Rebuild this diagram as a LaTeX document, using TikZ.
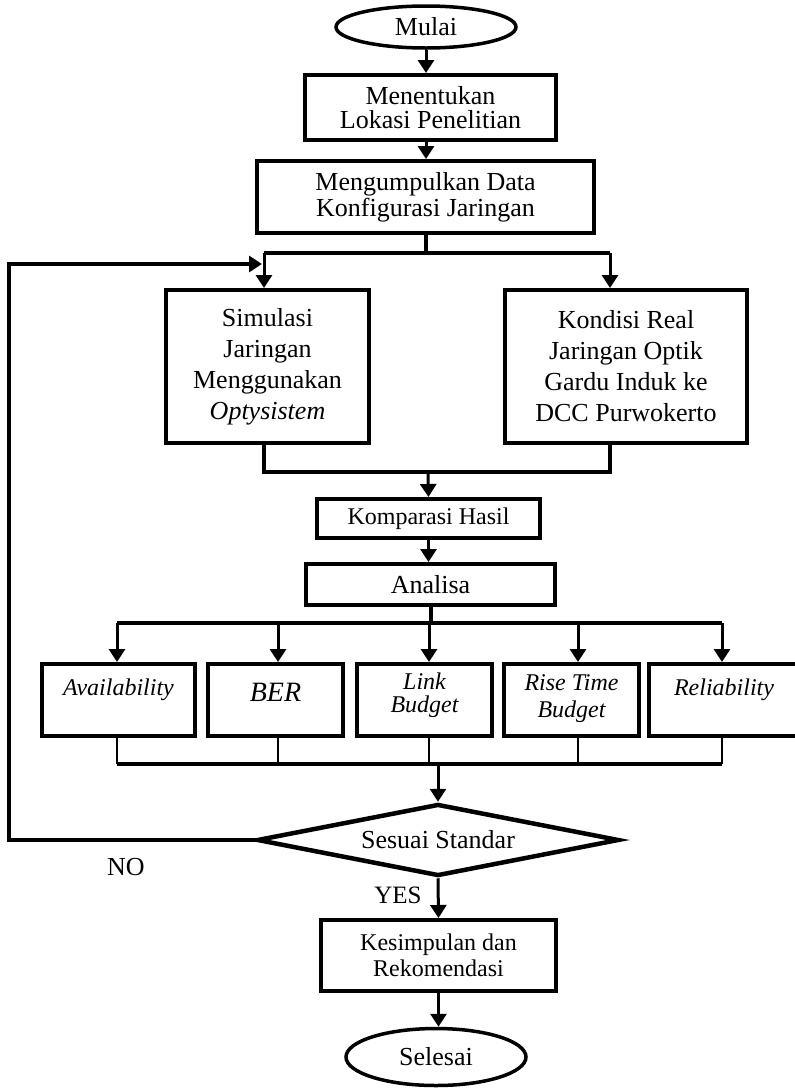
\documentclass[tikz,border=0pt]{standalone}
\usepackage{fontspec}
\setmainfont{Liberation Serif}
\usetikzlibrary{positioning,shapes.geometric,arrows.meta,calc}

\tikzset{
  proc/.style={draw,line width=4pt,align=center,inner sep=0pt,font=\fontsize{26}{25}\selectfont},
  term/.style={draw,ellipse,line width=3.5pt,inner sep=0pt,font=\fontsize{26}{26}\selectfont},
  decide/.style={draw,diamond,aspect=5,line width=4.5pt,inner sep=0pt,font=\fontsize{26}{26}\selectfont},
  param/.style={proc,minimum height=72pt,font=\fontsize{24}{22}\itshape},
  bus/.style={line width=4pt},
  flow/.style={line width=3pt,-{Triangle[length=13pt,width=16pt]}},
  tie/.style={line width=2pt}
}

\begin{document}
\begin{tikzpicture}[x=1pt,y=-1pt]
\useasboundingbox (0,0) rectangle (795,1088);

\node[term,minimum width=180pt,minimum height=42pt] (mulai) at (426,27) {Mulai};
\node[proc,minimum width=251pt,minimum height=65pt,font=\fontsize{26}{24}\selectfont] (lokasi) at (430.5,107.5) {Menentukan\\Lokasi Penelitian};
\node[proc,minimum width=337pt,minimum height=72pt,font=\fontsize{26}{26}\selectfont] (data) at (425.5,197) {Mengumpulkan Data\\Konfigurasi Jaringan};
\node[proc,minimum width=203pt,minimum height=153pt,font=\fontsize{26}{31}\selectfont] (simulasi) at (267.5,366.5) {Simulasi\\Jaringan\\Menggunakan\\\textit{Optysistem}};
\node[proc,minimum width=242pt,minimum height=153pt,font=\fontsize{26}{31}\selectfont] (kondisi) at (626,366.5) {Kondisi Real\\Jaringan Optik\\Gardu Induk ke\\DCC Purwokerto};
\node[proc,minimum width=223pt,minimum height=39pt,font=\fontsize{24}{24}\selectfont] (komparasi) at (428.5,518.5) {Komparasi Hasil};
\node[proc,minimum width=249pt,minimum height=41pt] (analisa) at (430.5,584.5) {Analisa};

\node[param,minimum width=153pt,text height=31pt,text depth=41pt] (avail) at (118.5,700) {Availability};
\node[param,minimum width=135pt,text height=37pt,text depth=35pt,font=\fontsize{28}{28}\itshape] (ber) at (275.5,700) {BER};
\node[param,minimum width=135pt,text height=48pt,text depth=24pt,font=\fontsize{24}{23}\itshape] (link) at (424.5,700) {Link\\Budget};
\node[param,minimum width=135pt,text height=53pt,text depth=19pt,font=\fontsize{24}{27}\itshape] (rise) at (571.5,700) {Rise Time\\Budget};
\node[param,minimum width=150pt,text height=31pt,text depth=41pt] (reli) at (724,700) {Reliability};

\node[decide,minimum width=362pt,minimum height=72pt] (cek) at (438,840) {Sesuai Standar};
\node[font=\fontsize{26}{26}\selectfont] (no) at (126,867) {NO};
\node[font=\fontsize{25}{25}\selectfont] (yes) at (398,895) {YES};
\node[proc,minimum width=235pt,minimum height=71pt,font=\fontsize{24}{26}\selectfont] (simpul) at (438.5,955.5) {Kesimpulan dan\\Rekomendasi};
\node[term,minimum width=180pt,minimum height=57pt] (selesai) at (436,1057) {Selesai};

\coordinate (sl) at (264,253);
\coordinate (sr) at (610,253);
\coordinate (loop) at (9,264);
\coordinate (loopin) at (262,264);
\coordinate (ml) at (264,472);
\coordinate (mr) at (610,472);
\coordinate (mm) at (428,472);
\coordinate (bl) at (117,623);
\coordinate (br) at (722,623);
\coordinate (cl) at (117,764);
\coordinate (cr) at (722,764);
\coordinate (cm) at (438,764);

\draw[flow] (mulai.south) -- (mulai.south |- lokasi.north);
\draw[flow] (mulai.south |- lokasi.south) -- (mulai.south |- data.north);
\draw[bus] (data.south) -- (data.south |- sl);
\draw[bus] (sl) -- (sr);
\draw[flow] (sl) -- (sl |- simulasi.north);
\draw[flow] (sr) -- (sr |- kondisi.north);

\draw[bus] (sl |- simulasi.south) -- (ml) -- (mr) -- (sr |- kondisi.south);
\draw[flow] (mm) -- (komparasi.north);
\draw[flow] (komparasi.south) -- (komparasi.south |- analisa.north);

\draw[bus] (analisa.south) -- (analisa.south |- bl);
\draw[bus] (bl) -- (br);
\foreach \n/\x in {avail/117,ber/278,link/429,rise/578,reli/722}{
  \draw[flow] (\x,623) -- (\n.north -| \x,623);
  \draw[tie] (\n.south -| \x,764) -- (\x,764);
}
\draw[bus] (cl) -- (cr);
\draw[flow] (cm) -- (cek.north);

\draw[flow,line width=4pt] (cek.west) -| (loop) -- (loopin);
\draw[flow] (cek.south) -- (simpul.north);
\draw[flow] (simpul.south) -- (simpul.south |- selesai.north);
\end{tikzpicture}
\end{document}
